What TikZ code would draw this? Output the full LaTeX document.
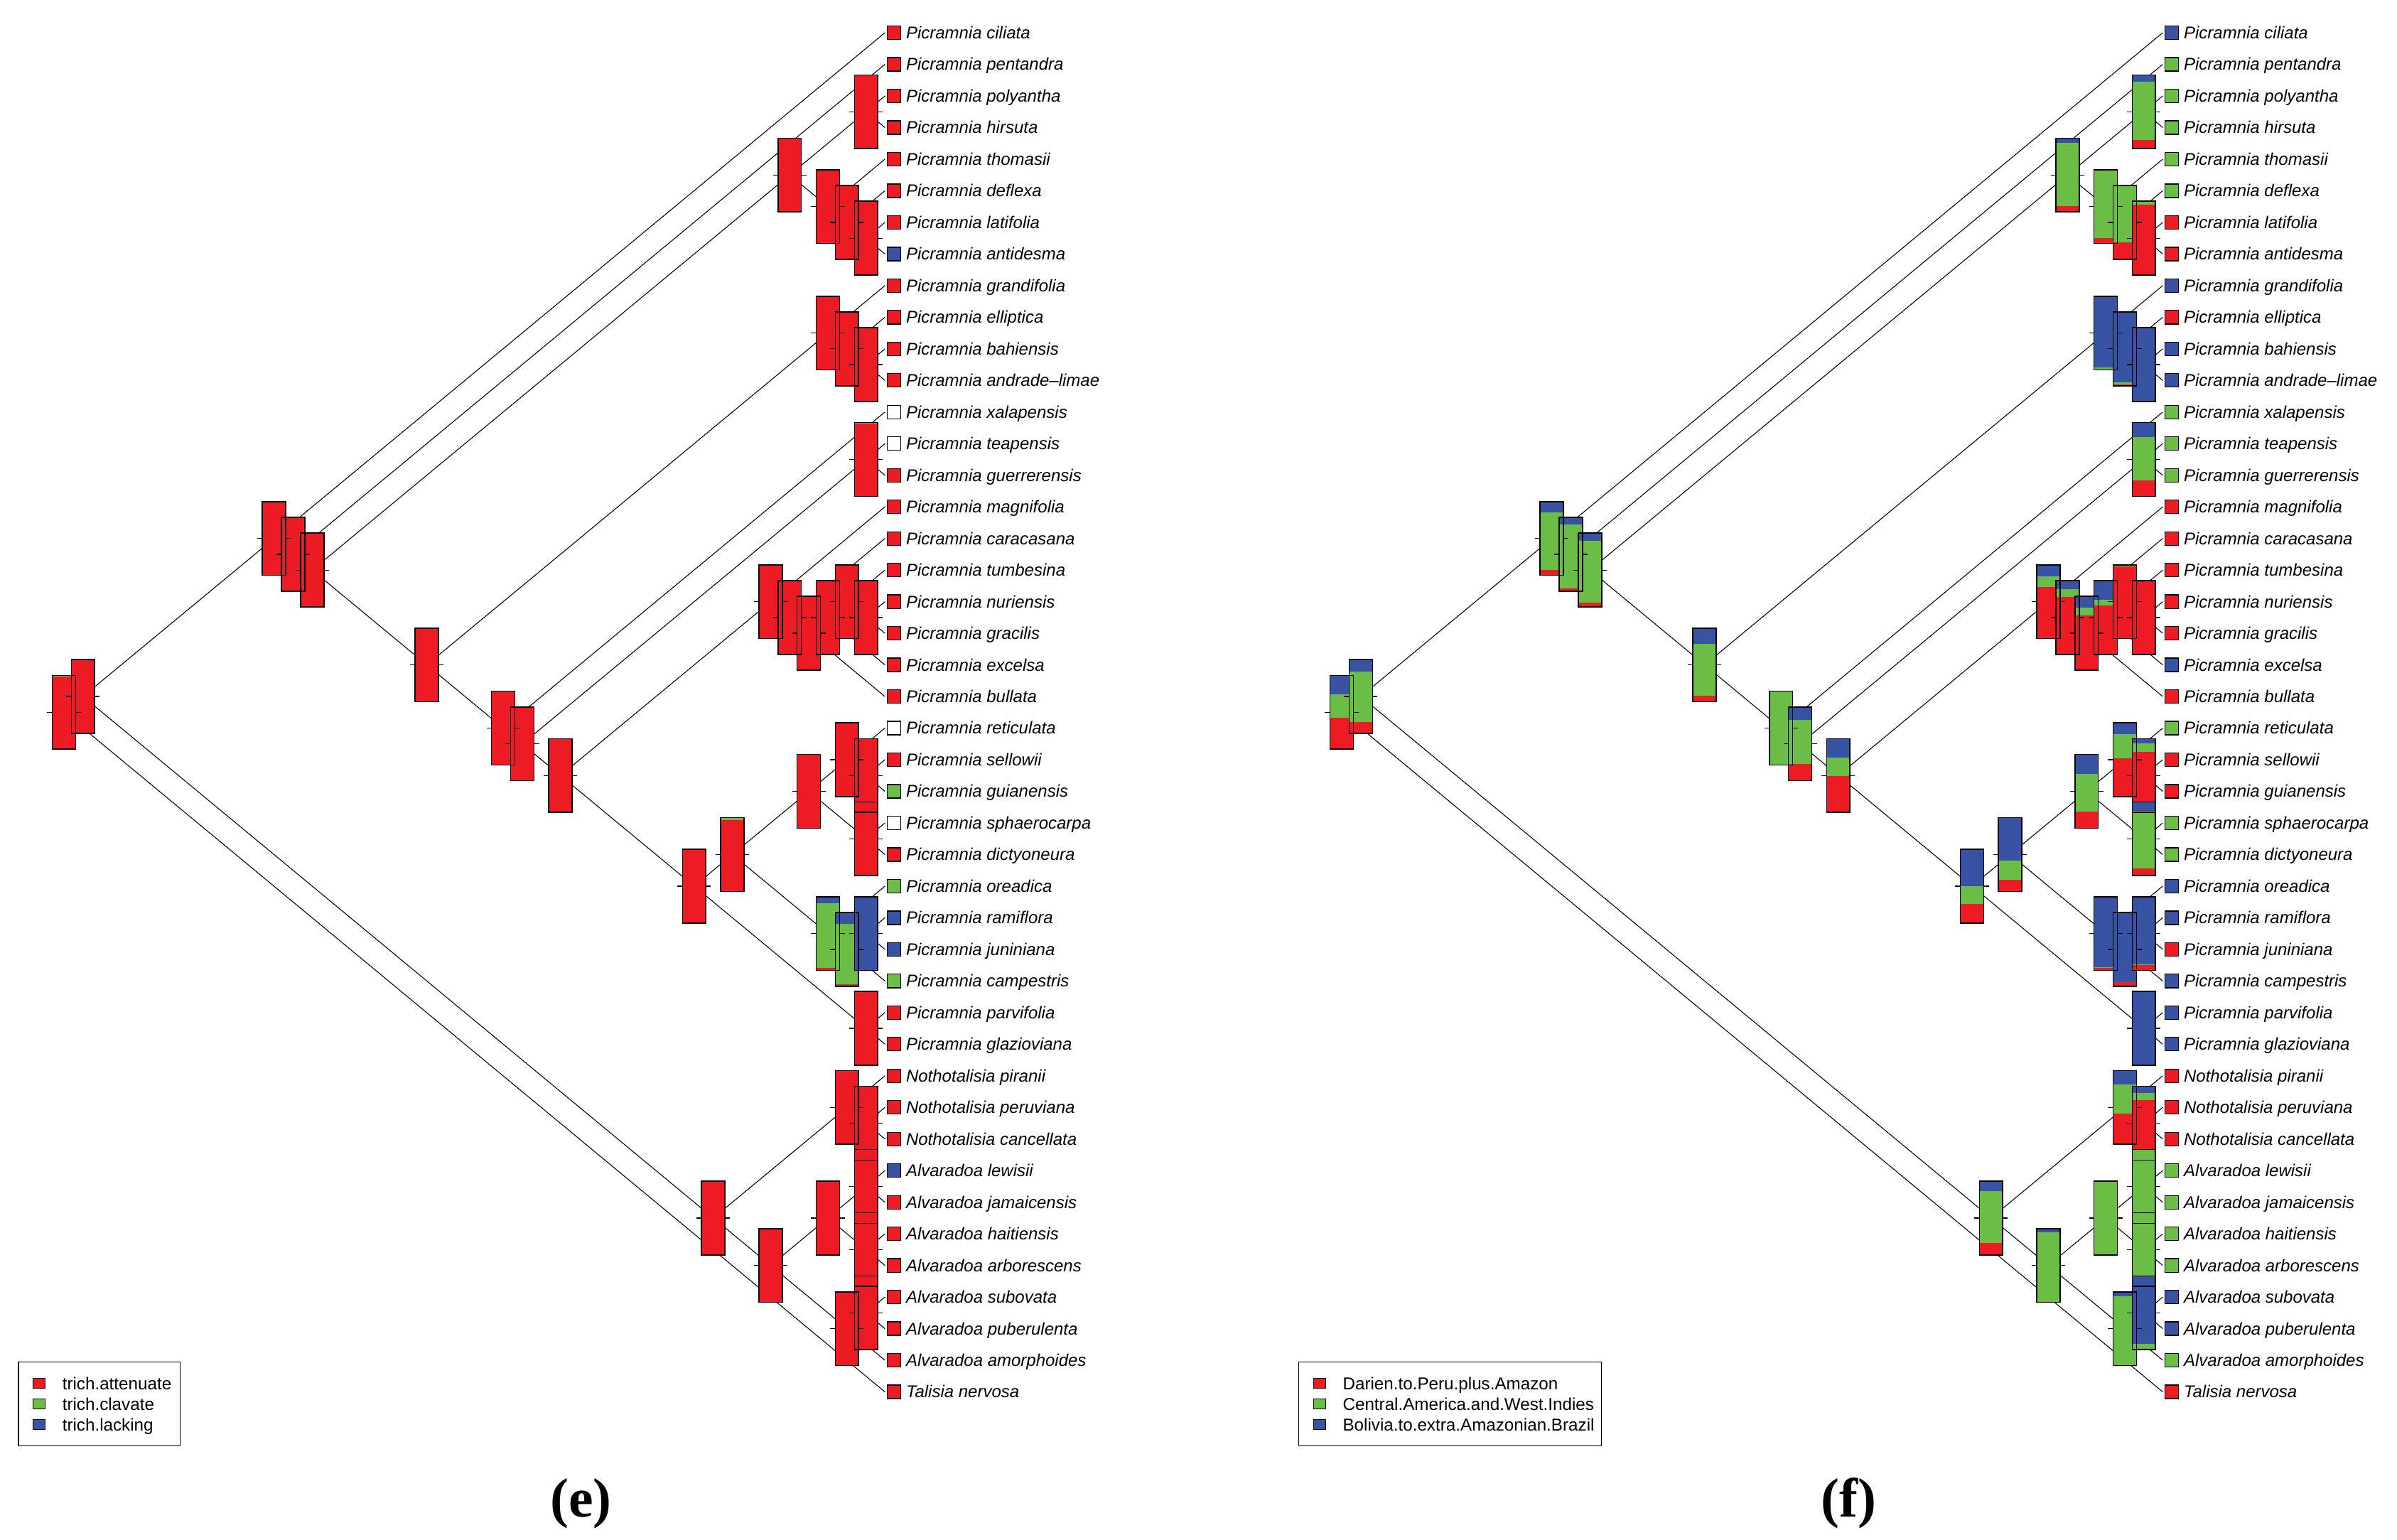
\documentclass[tikz,border=0pt]{standalone}
\usepackage{fontspec}
\newfontfamily\hv{Liberation Sans}
\newfontfamily\tms{Liberation Serif}
\definecolor{cr}{RGB}{237,28,36}
\definecolor{cg}{RGB}{106,189,69}
\definecolor{cb}{RGB}{57,83,164}
\def\nodelist{1/44,1/43,1/33,2/33,3/33,3/8,3/4,5/8,6/8,7/8,9/33,9/12,10/12,11/12,13/33,14/33,14/15,16/33,16/22,17/22,18/22,18/21,18/20,19/20,23/33,23/31,23/27,23/25,24/25,26/27,28/31,29/31,29/30,32/33,34/43,34/36,35/36,37/43,37/40,37/38,39/40,41/43,41/42}
\def\edgelist{1x44/1x43,1x44/t44,1x43/1x33,1x43/34x43,1x33/t1,1x33/2x33,2x33/t2,2x33/3x33,3x33/3x8,3x33/9x33,3x8/3x4,3x8/5x8,3x4/t3,3x4/t4,5x8/t5,5x8/6x8,6x8/t6,6x8/7x8,7x8/t7,7x8/t8,9x33/9x12,9x33/13x33,9x12/t9,9x12/10x12,10x12/t10,10x12/11x12,11x12/t11,11x12/t12,13x33/t13,13x33/14x33,14x33/14x15,14x33/16x33,14x15/t14,14x15/t15,16x33/16x22,16x33/23x33,16x22/t16,16x22/17x22,17x22/t17,17x22/18x22,18x22/18x21,18x22/t22,18x21/18x20,18x21/t21,18x20/t18,18x20/19x20,19x20/t19,19x20/t20,23x33/23x31,23x33/32x33,23x31/23x27,23x31/28x31,23x27/23x25,23x27/26x27,23x25/t23,23x25/24x25,24x25/t24,24x25/t25,26x27/t26,26x27/t27,28x31/t28,28x31/29x31,29x31/29x30,29x31/t31,29x30/t29,29x30/t30,32x33/t32,32x33/t33,34x43/34x36,34x43/37x43,34x36/t34,34x36/35x36,35x36/t35,35x36/t36,37x43/37x40,37x43/41x43,37x40/37x38,37x40/39x40,37x38/t37,37x38/t38,39x40/t39,39x40/t40,41x43/41x42,41x43/t43,41x42/t41,41x42/t42}
\def\leftcols{1x44/0.98/0.02,1x43/1/0,1x33/1/0,2x33/1/0,3x33/1/0,3x8/1/0,3x4/1/0,5x8/1/0,6x8/1/0,7x8/1/0,9x33/1/0,9x12/1/0,10x12/1/0,11x12/1/0,13x33/1/0,14x33/1/0,14x15/0.99/0.01,16x33/1/0,16x22/1/0,17x22/1/0,18x22/1/0,18x21/1/0,18x20/1/0,19x20/1/0,23x33/1/0,23x31/0.97/0.03,23x27/1/0,23x25/1/0,24x25/1/0,26x27/1/0,28x31/0.03/0.883,29x31/0.03/0.82,29x30/0/0,32x33/1/0,34x43/1/0,34x36/1/0,35x36/1/0,37x43/1/0,37x40/1/0,37x38/1/0,39x40/1/0,41x43/1/0,41x42/1/0}
\def\rightcols{1x44/0.43/0.31,1x43/0.15/0.69,1x33/0.07/0.785,2x33/0.035/0.865,3x33/0.06/0.835,3x8/0.08/0.86,3x4/0.12/0.79,5x8/0.07/0.93,6x8/0.23/0.77,7x8/0.95/0.05,9x33/0.085/0.70,9x12/0/0.03,10x12/0.02/0.025,11x12/0/0,13x33/0/1,14x33/0.23/0.60,14x15/0.215/0.585,16x33/0.49/0.25,16x22/0.70/0.14,17x22/0.78/0.10,18x22/0.745/0.105,18x21/0.66/0.08,18x20/0.98/0.02,19x20/1/0,23x33/0.26/0.24,23x31/0.16/0.26,23x27/0.23/0.51,23x25/0.52/0.33,24x25/0.82/0.115,26x27/0.10/0.78,28x31/0.03/0.01,29x31/0.06/0,29x30/0.07/0.01,32x33/0/0,34x43/0.16/0.705,34x36/0.42/0.39,35x36/0.81/0.10,37x43/0/0.95,37x40/0/1,37x38/0/1,39x40/0/1,41x43/0/0.935,41x42/0/0.08}
\begin{document}
\begin{tikzpicture}[x=1pt,y=-1pt,
  edge/.style={line width=0.5pt, black},
  boxb/.style={line width=0.75pt, black},
  stub/.style={line width=0.6pt, black},
  tipsq/.style={draw=black, line width=0.6pt, minimum size=8.8pt, inner sep=0pt, outer sep=0pt},
  tiplab/.style={font=\hv\itshape\fontsize{11.1}{13}\selectfont, inner sep=0pt, anchor=base west},
  legtxt/.style={font=\hv\fontsize{11.2}{13}\selectfont, inner sep=0pt, anchor=base west},
  legbox/.style={draw=black, line width=0.6pt, inner sep=0pt, anchor=north west, minimum height=54.7pt},
  legsq/.style={draw=black, line width=0.6pt, minimum width=7.9pt, minimum height=6.3pt, inner sep=0pt},
  panel/.style={font=\tms\bfseries\fontsize{36}{40}\selectfont, inner sep=0pt, anchor=base}]
\fill[white] (0,0) rectangle (1560,1002.2);
\useasboundingbox (0,0) rectangle (1560,1002.2);
% node coordinates
\foreach \ia/\ib in \nodelist {
  \pgfmathsetmacro\xx{41.6+12.43*(43-\ib+\ia)}
  \pgfmathsetmacro\yy{21.3+20.57*((\ia+\ib)/2-1)}
  \coordinate (L\ia x\ib) at (\xx,\yy);
  \coordinate (R\ia x\ib) at ({\xx+831.6},\yy);
}
\foreach \k in {1,...,44} {
  \pgfmathsetmacro\yy{21.3+20.57*(\k-1)}
  \coordinate (Lt\k) at (575.9,\yy);
  \coordinate (Rt\k) at (1407.5,\yy);
}
% edges
\foreach \pa/\ch in \edgelist {
  \draw[edge] (L\pa) -- (L\ch);
  \draw[edge] (R\pa) -- (R\ch);
}
% thermo fills
\foreach \nn/\fr/\fg in \leftcols {
  \pgfmathsetmacro\ya{24-48*\fr}
  \pgfmathsetmacro\yb{\ya-48*\fg}
  \fill[cr] ([shift={(-7.6,24)}]L\nn) rectangle ([shift={(7.6,\ya)}]L\nn);
  \fill[cg] ([shift={(-7.6,\ya)}]L\nn) rectangle ([shift={(7.6,\yb)}]L\nn);
  \fill[cb] ([shift={(-7.6,\yb)}]L\nn) rectangle ([shift={(7.6,-24)}]L\nn);
}
\foreach \nn/\fr/\fg in \rightcols {
  \pgfmathsetmacro\ya{24-48*\fr}
  \pgfmathsetmacro\yb{\ya-48*\fg}
  \fill[cr] ([shift={(-7.6,24)}]R\nn) rectangle ([shift={(7.6,\ya)}]R\nn);
  \fill[cg] ([shift={(-7.6,\ya)}]R\nn) rectangle ([shift={(7.6,\yb)}]R\nn);
  \fill[cb] ([shift={(-7.6,\yb)}]R\nn) rectangle ([shift={(7.6,-24)}]R\nn);
}
% borders and ticks
\foreach \ia/\ib in \nodelist {
  \draw[boxb] ([shift={(-7.6,-24)}]L\ia x\ib) rectangle ([shift={(7.6,24)}]L\ia x\ib);
  \draw[boxb] ([shift={(-7.6,-24)}]R\ia x\ib) rectangle ([shift={(7.6,24)}]R\ia x\ib);
}
\foreach \ia/\ib in \nodelist {
  \draw[stub] ([shift={(-10.9,0)}]L\ia x\ib) -- ([shift={(-7.6,0)}]L\ia x\ib);
  \draw[stub] ([shift={(7.6,0)}]L\ia x\ib) -- ([shift={(10.9,0)}]L\ia x\ib);
  \draw[stub] ([shift={(-10.9,0)}]R\ia x\ib) -- ([shift={(-7.6,0)}]R\ia x\ib);
  \draw[stub] ([shift={(7.6,0)}]R\ia x\ib) -- ([shift={(10.9,0)}]R\ia x\ib);
}
% tips
\foreach \k/\nm/\cl/\cR in {
 1/Picramnia ciliata/cr/cb, 2/Picramnia pentandra/cr/cg, 3/Picramnia polyantha/cr/cg,
 4/Picramnia hirsuta/cr/cg, 5/Picramnia thomasii/cr/cg, 6/Picramnia deflexa/cr/cg,
 7/Picramnia latifolia/cr/cr, 8/Picramnia antidesma/cb/cr, 9/Picramnia grandifolia/cr/cb,
 10/Picramnia elliptica/cr/cr, 11/Picramnia bahiensis/cr/cb, 12/Picramnia andrade–limae/cr/cb,
 13/Picramnia xalapensis/white/cg, 14/Picramnia teapensis/white/cg, 15/Picramnia guerrerensis/cr/cg,
 16/Picramnia magnifolia/cr/cr, 17/Picramnia caracasana/cr/cr, 18/Picramnia tumbesina/cr/cr,
 19/Picramnia nuriensis/cr/cr, 20/Picramnia gracilis/cr/cr, 21/Picramnia excelsa/cr/cb,
 22/Picramnia bullata/cr/cr, 23/Picramnia reticulata/white/cg, 24/Picramnia sellowii/cr/cr,
 25/Picramnia guianensis/cg/cr, 26/Picramnia sphaerocarpa/white/cg, 27/Picramnia dictyoneura/cr/cg,
 28/Picramnia oreadica/cg/cb, 29/Picramnia ramiflora/cb/cb, 30/Picramnia juniniana/cb/cr,
 31/Picramnia campestris/cg/cb, 32/Picramnia parvifolia/cr/cb, 33/Picramnia glazioviana/cr/cb,
 34/Nothotalisia piranii/cr/cr, 35/Nothotalisia peruviana/cr/cr, 36/Nothotalisia cancellata/cr/cr,
 37/Alvaradoa lewisii/cb/cg, 38/Alvaradoa jamaicensis/cr/cg, 39/Alvaradoa haitiensis/cr/cg,
 40/Alvaradoa arborescens/cr/cg, 41/Alvaradoa subovata/cr/cb, 42/Alvaradoa puberulenta/cr/cb,
 43/Alvaradoa amorphoides/cr/cg, 44/Talisia nervosa/cr/cr} {
  \node[tipsq, fill=\cl] (Lsq\k) at ([shift={(5.9,0)}]Lt\k) {};
  \node[tiplab] (Llb\k) at ([shift={(13.6,3.9)}]Lt\k) {\nm};
  \node[tipsq, fill=\cR] (Rsq\k) at ([shift={(5.9,0)}]Rt\k) {};
  \node[tiplab] (Rlb\k) at ([shift={(13.6,3.9)}]Rt\k) {\nm};
}
% legends
\node[legbox, minimum width=105.2pt] (legL) at (11.7,886.0) {};
\node[legsq, fill=cr] (legLs1) at (25.55,900.2) {};
\node[legsq, fill=cg] (legLs2) at (25.55,913.6) {};
\node[legsq, fill=cb] (legLs3) at (25.55,927.0) {};
\node[legtxt] (legLt1) at (40.4,904.2) {trich.attenuate};
\node[legtxt] (legLt2) at (40.4,917.6) {trich.clavate};
\node[legtxt] (legLt3) at (40.4,931.0) {trich.lacking};
\node[legbox, minimum width=197pt] (legR) at (845,886.0) {};
\node[legsq, fill=cr] (legRs1) at (858.85,900.2) {};
\node[legsq, fill=cg] (legRs2) at (858.85,913.6) {};
\node[legsq, fill=cb] (legRs3) at (858.85,927.0) {};
\node[legtxt] (legRt1) at (873.7,904.2) {Darien.to.Peru.plus.Amazon};
\node[legtxt] (legRt2) at (873.7,917.6) {Central.America.and.West.Indies};
\node[legtxt] (legRt3) at (873.7,931.0) {Bolivia.to.extra.Amazonian.Brazil};
% panel labels
\node[panel] (pe) at (378,987) {(e)};
\node[panel] (pf) at (1203,987) {(f)};
\end{tikzpicture}
\end{document}
